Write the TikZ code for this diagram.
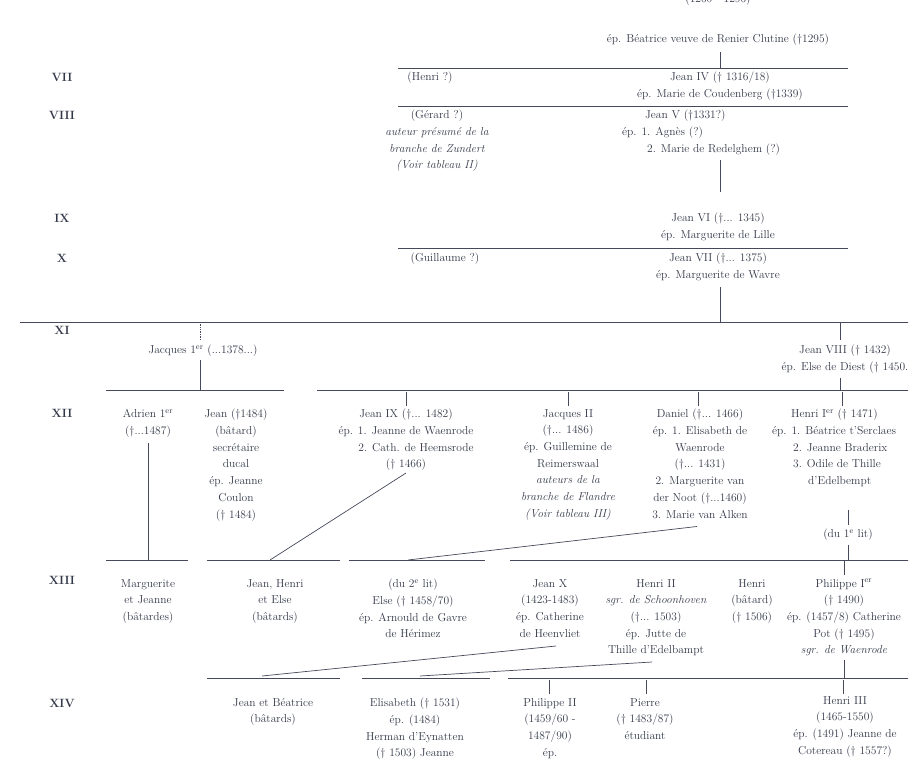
\documentclass[tikz,border=0pt]{standalone}
\usepackage{xcolor}
\usepackage{tikz}
\usetikzlibrary{calc}
\definecolor{ink}{HTML}{333848}
\definecolor{lineink}{HTML}{45495A}
\tikzset{
  gen/.style = {align=center, inner sep=0pt, anchor=north, text=ink,
                font=\fontsize{11.5}{16.7}\selectfont},
  gnum/.style = {inner sep=0pt, text=ink, font=\fontsize{12}{14}\selectfont\bfseries},
  bar/.style = {lineink, line width=0.9pt},
  stem/.style = {lineink, line width=0.7pt}
}
\begin{document}
\begin{tikzpicture}[x=1pt, y=-1pt]
		\useasboundingbox (0,0) rectangle (924,768);
		\clip (0,0) rectangle (908,768);
		
		% generation numbers
		\node [gnum] (g7) at (62,77) {VII};
		\node [gnum] (g8) at (62,115) {VIII};
		\node [gnum] (g9) at (62,218) {IX};
		\node [gnum] (g10) at (62,258) {X};
		\node [gnum] (g11) at (62,330) {XI};
		\node [gnum] (g12) at (62,413) {XII};
		\node [gnum] (g13) at (62,580) {XIII};
		\node [gnum] (g14) at (62,703) {XIV};
		
		% top
		\node [gen] (dates) at (718,-6) {(1260 - 1296)};
		\node [gen] (top) at (718,34) {ép. Béatrice veuve de Renier Clutine (\dag1295)};
		\draw [bar] (398,68) -- (848,68);
		\draw [stem] (720,52) -- (720,68);
		
		% VII
		\node [gen] (henri) at (430,72) {(Henri ?)};
		\node [gen] (jean4) at (720,72) {Jean IV (\dag\ 1316/18)\\ép. Marie de Coudenberg (\dag1339)};
		\draw [bar] (398,106) -- (848,106);
		
		% VIII
		\node [gen] (gerard) at (437,110) {(Gérard ?)\\\itshape auteur présumé de la\\\itshape branche de Zundert\\\itshape (Voir tableau II)};
		\node [gen, align=left, anchor=north west] (jean5) at (622,110) {\hspace*{23pt}Jean V (\dag1331?)\\ép. 1. Agnès (?)\\\hspace*{25pt}2. Marie de Redelghem (?)};
		\coordinate (j5a) at (720,160);
		\coordinate (j5b) at (720,192);
		\draw [stem] (j5a) -- (j5b);
		
		% IX
		\node [gen] (jean6) at (718,213) {Jean VI (\dag... 1345)\\ép. Marguerite de Lille};
		\draw [bar] (398,248) -- (848,248);
		
		% X
		\node [gen] (guill) at (445,253) {(Guillaume ?)};
		\node [gen] (jean7) at (718,253) {Jean VII (\dag... 1375)\\ép. Marguerite de Wavre};
		\draw [stem] (720,287) -- (720,322);
		
		% XI
		\draw [bar] (20,322) -- (910,322);
		\draw [stem, densely dotted] (200,322) -- (200,340);
		\node [gen] (jacq1) at (203,345) {Jacques 1\textsuperscript{er} (...1378...)};
		\draw [stem] (200,360) -- (200,390);
		\node [gen] (jean8) at (845,345) {Jean VIII (\dag\ 1432)\\ép. Else de Diest (\dag\ 1450.};
		\draw [stem] (840,322) -- (840,340);
		\draw [stem] (840,378) -- (840,390);
		
		% XII
		\draw [bar] (106,390) -- (284,390);
		\draw [bar] (317,390) -- (910,390);
		\node [gen] (adrien) at (148,409) {Adrien 1\textsuperscript{er}\\(\dag...1487)};
		\node [gen] (jeanb) at (236,409) {Jean (\dag1484)\\(bâtard)\\secrétaire\\ducal\\ép. Jeanne\\Coulon\\(\dag\ 1484)};
		\node [gen] (jean9) at (406,409) {Jean IX (\dag... 1482)\\ép. 1. Jeanne de Waenrode\\\hspace*{20pt}2. Cath. de Heemsrode\\(\dag\ 1466)};
		\node [gen] (jacq2) at (568,409) {Jacques II\\(\dag... 1486)\\ép. Guillemine de\\Reimerswaal\\\itshape auteurs de la\\\itshape branche de Flandre\\\itshape (Voir tableau III)};
		\node [gen] (daniel) at (700,409) {Daniel (\dag... 1466)\\ép. 1. Elisabeth de\\Waenrode\\(\dag... 1431)\\2. Marguerite van\\der Noot (\dag...1460)\\3. Marie van Alken};
		\node [gen, align=left, anchor=north west] (henri1) at (772,409) {\hspace*{19pt}Henri I\textsuperscript{er} (\dag\ 1471)\\ép. 1. Béatrice t'Serclaes\\\hspace*{21pt}2. Jeanne Braderix\\\hspace*{21pt}3. Odile de Thille\\\hspace*{36pt}d'Edelbempt};
		\foreach \x in {406,568,698,842} \draw [stem] (\x,392) -- (\x,406);
		\node [gen] (lit1) at (848,529) {(du 1\textsuperscript{e} lit)};
		\draw [stem] (848,510) -- (848,525);
		\draw [stem] (848,545) -- (848,560);
		\draw [stem] (148,443) -- (148,560);
		
		% XIII
		\draw [bar] (106,560) -- (188,560);
		\draw [bar] (207,560) -- (340,560);
		\draw [bar] (349,560) -- (485,560);
		\draw [bar] (510,560) -- (910,560);
		\draw [stem] (jean9.south) ++(0,2) -- (270,560);
		\draw [stem] (daniel.south) ++(-3,8) -- (408,560);
		\node [gen] (marg) at (148,579) {Marguerite\\et Jeanne\\(bâtardes)};
		\node [gen] (jhe) at (275,579) {Jean, Henri\\et Else\\(bâtards)};
		\node [gen] (else) at (413,579) {(du 2\textsuperscript{e} lit)\\Else (\dag\ 1458/70)\\ép. Arnould de Gavre\\de Hérimez};
		\node [gen] (jean10) at (550,579) {Jean X\\(1423-1483)\\ép. Catherine\\de Heenvliet};
		\node [gen] (henri2) at (656,579) {Henri II\\\itshape sgr. de Schoonhoven\\(\dag... 1503)\\ép. Jutte de\\Thille d'Edelbampt};
		\node [gen] (henrib) at (752,579) {Henri\\(bâtard)\\(\dag\ 1506)};
		\node [gen] (phil1) at (844,579) {Philippe I\textsuperscript{er}\\(\dag\ 1490)\\ép. (1457/8) Catherine\\Pot (\dag\ 1495)\\\itshape sgr. de Waenrode};
		\draw [stem] (844,560) -- (844,575);
		\draw [stem] (844,660) -- (844,678);
		
		% XIV
		\draw [bar] (207,678) -- (340,678);
		\draw [bar] (362,678) -- (490,678);
		\draw [bar] (508,678) -- (910,678);
		\draw [stem] (556,646) -- (262,676);
		\draw [stem] (652,662) -- (420,676);
		\foreach \x in {549,646,843} \draw [stem] (\x,680) -- (\x,694);
		\node [gen] (jb) at (273,698) {Jean et Béatrice\\(bâtards)};
		\node [gen] (elis) at (415,698) {Elisabeth (\dag\ 1531)\\ép. (1484)\\Herman d'Eynatten\\(\dag\ 1503) Jeanne};
		\node [gen] (phil2) at (550,698) {Philippe II\\(1459/60 -\\1487/90)\\ép.};
		\node [gen] (pierre) at (645,698) {Pierre\\(\dag\ 1483/87)\\étudiant};
		\node [gen] (henri3) at (845,696) {Henri III\\(1465-1550)\\ép. (1491) Jeanne de\\Cotereau (\dag\ 1557?)};
\end{tikzpicture}
\end{document}
